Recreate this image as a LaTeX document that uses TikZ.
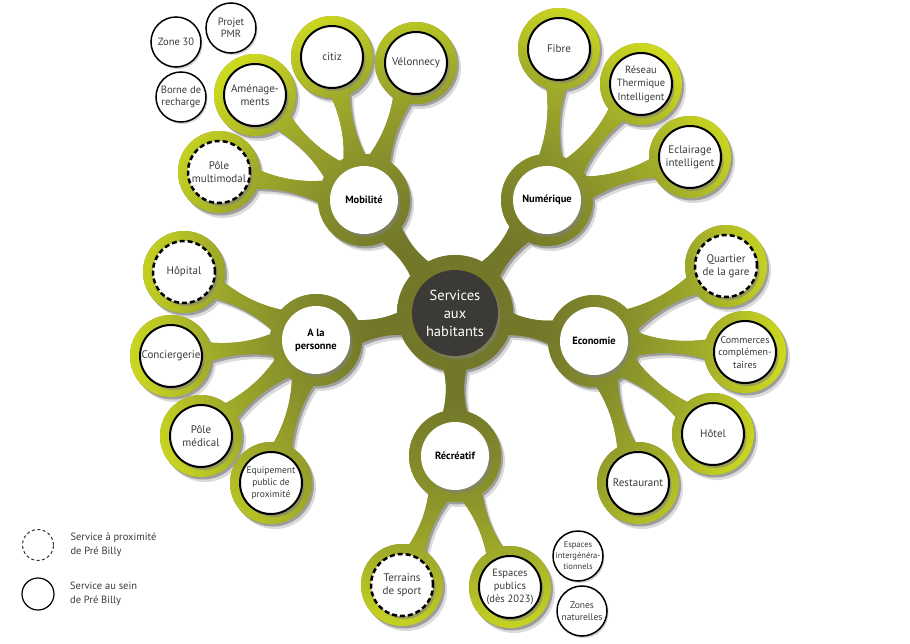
\documentclass[tikz,border=0pt]{standalone}
\usepackage{fontspec}
\setmainfont{PT Sans}
\usepackage{tikz}
\usetikzlibrary{calc,shadows,positioning}

\definecolor{hubgrey}{HTML}{3C3A36}
\definecolor{oldark}{HTML}{72772A}
\definecolor{olmid}{HTML}{878F2B}
\definecolor{olbright}{HTML}{A2AD2A}
\definecolor{ollight}{HTML}{CDD91F}
\definecolor{txtgrey}{HTML}{3A3A3A}

\pgfdeclarelayer{shadow}
\pgfdeclarelayer{green}
\pgfsetlayers{shadow,green,main}
\pgfdeclareradialshading{greenglow}{\pgfpoint{0bp}{0bp}}{color(0bp)=(oldark); color(6bp)=(oldark); color(12bp)=(olmid); color(17.5bp)=(olbright); color(23bp)=(ollight); color(50bp)=(ollight)}

\newcommand{\stem}[4]{%
\fill[mapfill] ($(#1.center)!#3!90:(#2.center)$)
  .. controls ($(#1.center)!.35!(#2.center)$) and ($(#1.center)!.65!(#2.center)$) .. ($(#2.center)!#4!-90:(#1.center)$)
  -- ($(#2.center)!#4!90:(#1.center)$)
  .. controls ($(#1.center)!.65!(#2.center)$) and ($(#1.center)!.35!(#2.center)$) .. ($(#1.center)!#3!-90:(#2.center)$)
  -- cycle;}

\newcommand{\mapshape}{%
\fill[mapfill] (hab.center) circle[radius=58pt];
\foreach \m in {mob,num,pers,eco,recr} {\fill[mapfill] (\m.center) circle[radius=46pt]; \stem{hab}{\m}{42pt}{32pt}}
\foreach \l in {pmm,amen,citiz,velo} {\fill[mapfill] (\l.center) circle[radius=41pt]; \stem{mob}{\l}{30pt}{22pt}}
\foreach \l in {fibre,rti,eclair} {\fill[mapfill] (\l.center) circle[radius=41pt]; \stem{num}{\l}{30pt}{22pt}}
\foreach \l in {gare,comm,hotel,resto} {\fill[mapfill] (\l.center) circle[radius=41pt]; \stem{eco}{\l}{30pt}{22pt}}
\foreach \l in {hopital,concier,pmed,equip} {\fill[mapfill] (\l.center) circle[radius=41pt]; \stem{pers}{\l}{30pt}{22pt}}
\foreach \l in {terrains,espub} {\fill[mapfill] (\l.center) circle[radius=41pt]; \stem{recr}{\l}{30pt}{22pt}}
}

\begin{document}
\begin{tikzpicture}[x=1pt,y=-1pt,
  mapfill/.style={},
  greenfill/.style={fill=olmid, path picture={\shade[shading=greenglow] (455,313) circle[radius=360pt];}},
  hubnode/.style={circle, fill=hubgrey, text=white, minimum size=86pt, inner sep=0pt, align=center,
    font=\fontsize{14.5}{18}\selectfont, drop shadow={shadow xshift=2.5pt, shadow yshift=-3pt, opacity=.55}},
  midnode/.style={circle, fill=white, minimum size=68pt, inner sep=0pt, align=center,
    font=\fontsize{10.5}{13}\selectfont\bfseries, drop shadow={shadow xshift=2.5pt, shadow yshift=-3pt, opacity=.6}},
  leafnode/.style={circle, fill=white, draw=black, line width=2pt, minimum size=62pt, inner sep=-3pt, align=center,
    text=txtgrey, font=\fontsize{11}{13}\selectfont, drop shadow={shadow xshift=2.5pt, shadow yshift=-3pt, opacity=.6}},
  nearnode/.style={leafnode, dash pattern=on 5pt off 3pt, line width=2.5pt},
  loosenode/.style={circle, fill=white, draw=black, line width=1.5pt, minimum size=50pt, inner sep=-4pt, align=center,
    text=txtgrey, font=\fontsize{10.5}{12.5}\selectfont, drop shadow={shadow xshift=1.5pt, shadow yshift=-2pt, opacity=.35}},
  legtext/.style={align=left, text=txtgrey, font=\fontsize{10.5}{14}\selectfont}]

\useasboundingbox (0,0) rectangle (910,643);

\node[hubnode] (hab) at (455,313) {Services\\aux\\habitants};

\node[midnode] (mob) at (364,200) {Mobilité};
\node[midnode] (num) at (547,200) {Numérique};
\node[midnode] (pers) at (316,340) {A la\\personne};
\node[midnode] (eco) at (594,341) {Economie};
\node[midnode] (recr) at (455,456) {Récréatif};

\node[nearnode] (pmm) at (219,172) {Pôle\\multimodal};
\node[leafnode] (amen) at (255,95) {Aménage-\\ments};
\node[leafnode] (citiz) at (332,57) {citiz};
\node[leafnode] (velo) at (416,63) {Vélonnecy};
\node[loosenode] (zone) at (176,42) {Zone 30};
\node[loosenode] (pmr) at (231,28) {Projet\\PMR};
\node[loosenode] (borne) at (181,97) {Borne de\\recharge};

\node[leafnode] (fibre) at (559,49) {Fibre};
\node[leafnode, font=\fontsize{10.5}{13.5}\selectfont] (rti) at (641,84) {Réseau\\Thermique\\Intelligent};
\node[leafnode] (eclair) at (690,157) {Eclairage\\intelligent};

\node[nearnode] (gare) at (726,266) {Quartier\\de la gare};
\node[leafnode, font=\fontsize{10}{12.5}\selectfont] (comm) at (745,352) {Commerces\\complémen-\\taires};
\node[leafnode] (hotel) at (713,434) {Hôtel};
\node[leafnode] (resto) at (638,483) {Restaurant};

\node[nearnode] (hopital) at (184,272) {Hôpital};
\node[leafnode] (concier) at (171,356) {Conciergerie};
\node[leafnode] (pmed) at (201,436) {Pôle\\médical};
\node[leafnode, font=\fontsize{9.5}{12}\selectfont] (equip) at (271,483) {Equipement\\public de\\proximité};

\node[nearnode] (terrains) at (402,585) {Terrains\\de sport};
\node[leafnode, font=\fontsize{10.5}{13}\selectfont] (espub) at (510,587) {Espaces\\publics\\(dès 2023)};
\node[loosenode, font=\fontsize{8.5}{11}\selectfont] (espint) at (578,556) {Espaces\\intergénéra-\\tionnels};
\node[loosenode, font=\fontsize{9.5}{11.5}\selectfont] (zonat) at (582,611) {Zones\\naturelles};

\node[circle, draw=black!80, dash pattern=on 3pt off 2.5pt, line width=1pt, minimum size=31pt] (legnear) at (38,545) {};
\node[legtext, right=13pt of legnear] (legneartxt) {Service à proximité\\de Pré Billy};
\node[circle, draw=black, line width=1.2pt, minimum size=32pt] (legin) at (38,594) {};
\node[legtext, right=12pt of legin] (legintxt) {Service au sein\\de Pré Billy};

\begin{pgfonlayer}{shadow}
\begin{scope}[transform canvas={xshift=4pt,yshift=-5pt}, mapfill/.style={fill=black!14}]
\mapshape
\end{scope}
\begin{scope}[transform canvas={xshift=2pt,yshift=-2.5pt}, mapfill/.style={fill=black!38}]
\mapshape
\end{scope}
\end{pgfonlayer}

\begin{pgfonlayer}{green}
\begin{scope}[mapfill/.style={greenfill}]
\mapshape
\end{scope}
\end{pgfonlayer}
\end{tikzpicture}
\end{document}
